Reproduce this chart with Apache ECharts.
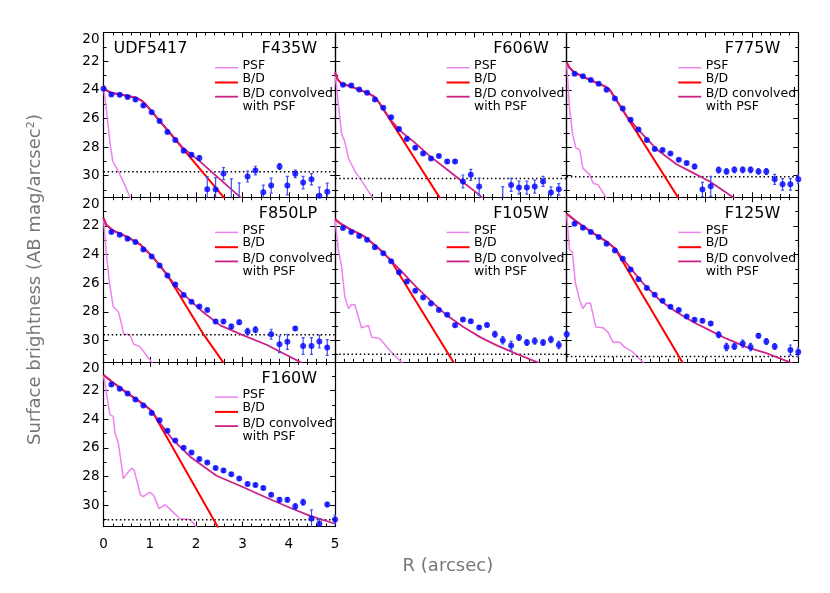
<!DOCTYPE html>
<html>
<head>
<meta charset="utf-8">
<script src="https://cdn.jsdelivr.net/npm/echarts@6/dist/echarts.min.js"></script>
<style>
  html, body { margin: 0; background: #fff; }
  #chart { width: 830px; height: 593px; }
</style>
</head>
<body>
<div id="chart"></div>
<script>
// radius of the measured points (arcsec)
const radius = [0.00, 0.17, 0.35, 0.52, 0.69, 0.86, 1.04, 1.21, 1.38, 1.55, 1.73, 1.90, 2.07, 2.24, 2.42,
                2.59, 2.76, 2.93, 3.11, 3.28, 3.45, 3.62, 3.80, 3.97, 4.14, 4.31, 4.49, 4.66, 4.83, 5.00];
const filters = ['F435W', 'F606W', 'F775W', 'F850LP', 'F105W', 'F125W', 'F160W'];
const skyLevel = [29.73, 30.2, 30.08, 29.61, 30.97, 31.13, 31.03];
const yTicks = [20, 22, 24, 26, 28, 30];
const xTicks = [0, 1, 2, 3, 4, 5];

// F435W
const magF435W = [23.93, 24.33, 24.35, 24.5, 24.68, 25.1, 25.57, 26.18, 26.95, 27.5, 28.26, 28.54, 28.77, 30.95, 30.97,
                  29.85, 31.9, 32.0, 30.06, 29.64, 31.16, 30.69, 29.36, 30.69, 29.87, 30.48, 30.25, 31.4, 31.12, null];
const errF435W = [0.08, 0.08, 0.08, 0.08, 0.08, 0.08, 0.08, 0.08, 0.08, 0.08, 0.1, 0.1, 0.15, 0.88, 0.84,
                  0.42, 1.68, 1.5, 0.38, 0.3, 0.5, 0.52, 0.2, 0.65, 0.26, 0.44, 0.39, 0.6, 0.6, null];
const psfF435W = [[0, 23.8], [0.07, 25.6], [0.14, 27.7], [0.2, 29.0], [0.32, 29.7], [0.46, 30.65], [0.6, 31.7]];
const bdF435W = [[0, 23.7], [0.05, 24.0], [0.15, 24.2], [0.4, 24.35], [0.7, 24.55], [0.82, 24.75], [0.92, 25.05], [2.62, 31.6]];
const convF435W = [[0, 23.75], [0.05, 24.0], [0.15, 24.2], [0.4, 24.35], [0.7, 24.55], [0.82, 24.75], [0.92, 25.05],
                   [1.7, 28.0], [2.08, 29.0], [2.34, 29.75], [2.95, 31.5], [3.0, 31.65]];

// F606W
const magF606W = [null, 23.65, 23.7, 23.98, 24.21, 24.68, 25.26, 25.92, 26.74, 27.44, 28.05, 28.44, 28.8, 28.63, 29.0,
                  29.0, 30.4, 29.94, 30.76, null, null, 31.9, 30.64, 30.83, 30.83, 30.76, 30.4, 31.18, 30.95, null];
const errF606W = [null, 0.08, 0.08, 0.08, 0.08, 0.08, 0.08, 0.08, 0.08, 0.08, 0.08, 0.08, 0.08, 0.08, 0.1,
                  0.1, 0.45, 0.38, 0.6, null, null, 1.14, 0.45, 0.45, 0.45, 0.45, 0.35, 0.4, 0.4, null];
const psfF606W = [[0, 22.8], [0.07, 25.0], [0.14, 27.1], [0.21, 27.6], [0.29, 28.8], [0.43, 29.7], [0.58, 30.4], [0.68, 30.9], [0.85, 31.7]];
const bdF606W = [[0, 22.8], [0.06, 23.3], [0.14, 23.58], [0.32, 23.74], [0.68, 24.2], [0.83, 24.45], [0.92, 24.75], [2.27, 31.6]];
const convF606W = [[0, 22.8], [0.06, 23.3], [0.14, 23.58], [0.32, 23.74], [0.68, 24.2], [0.83, 24.45], [0.92, 24.75],
                   [1.2, 26.1], [1.4, 26.85], [1.69, 27.6], [2.05, 28.65], [2.41, 29.55], [2.77, 30.47], [3.06, 31.2], [3.2, 31.6]];

// F775W
const magF775W = [null, 22.88, 23.06, 23.32, 23.58, 24.0, 24.61, 25.31, 26.1, 26.78, 27.51, 28.14, 28.21, 28.44, 28.89,
                  29.12, 29.36, 30.97, 30.74, 29.6, 29.7, 29.59, 29.59, 29.59, 29.7, 29.7, 30.25, 30.6, 30.6, 30.25];
const errF775W = [null, 0.08, 0.08, 0.08, 0.08, 0.08, 0.08, 0.08, 0.08, 0.08, 0.08, 0.08, 0.08, 0.08, 0.08,
                  0.1, 0.15, 0.5, 0.7, 0.2, 0.18, 0.2, 0.2, 0.2, 0.18, 0.2, 0.35, 0.4, 0.4, 0.3];
const psfF775W = [[0, 22.1], [0.06, 25.26], [0.13, 27.13], [0.2, 28.07], [0.28, 28.19], [0.35, 29.47], [0.5, 29.94],
                  [0.57, 30.53], [0.68, 30.64], [0.88, 31.7]];
const bdF775W = [[0, 22.1], [0.06, 22.46], [0.17, 22.8], [0.56, 23.4], [0.85, 23.8], [0.93, 24.0], [2.42, 31.6]];
const convF775W = [[0, 22.1], [0.06, 22.46], [0.17, 22.8], [0.56, 23.4], [0.85, 23.8], [0.93, 24.0], [1.3, 25.85],
                   [1.58, 26.9], [1.94, 28.15], [2.37, 29.2], [2.73, 29.8], [3.09, 30.4], [3.59, 31.5], [3.65, 31.65]];

// F850LP
const magF850LP = [null, 22.43, 22.62, 22.9, 23.13, 23.65, 24.14, 24.77, 25.47, 26.1, 26.83, 27.3, 27.63, 27.88, 28.68,
                   28.68, 29.03, 28.73, 29.38, 29.26, null, 29.57, 30.27, 30.1, 29.17, 30.39, 30.39, 30.08, 30.5, null];
const errF850LP = [null, 0.08, 0.08, 0.08, 0.08, 0.08, 0.08, 0.08, 0.08, 0.08, 0.08, 0.08, 0.08, 0.08, 0.12,
                   0.12, 0.15, 0.15, 0.22, 0.2, null, 0.35, 0.58, 0.53, 0.12, 0.58, 0.58, 0.45, 0.55, null];
const psfF850LP = [[0, 21.45], [0.06, 23.9], [0.13, 26.0], [0.21, 27.65], [0.32, 28.0], [0.39, 28.85], [0.43, 29.55],
                   [0.57, 29.6], [0.65, 30.25], [0.79, 30.45], [0.93, 31.05], [1.06, 31.6]];
const bdF850LP = [[0, 21.45], [0.06, 21.93], [0.21, 22.33], [0.5, 22.75], [0.79, 23.3], [0.9, 23.65], [1.04, 24.1],
                  [1.21, 24.74], [1.39, 25.5], [2.16, 29.58], [2.6, 31.6]];
const convF850LP = [[0, 21.45], [0.06, 21.93], [0.21, 22.33], [0.5, 22.75], [0.79, 23.3], [0.9, 23.65], [1.04, 24.1],
                    [1.21, 24.74], [1.39, 25.5], [1.6, 26.35], [1.87, 27.2], [2.16, 28.05], [2.52, 28.95], [2.98, 29.6],
                    [3.52, 30.3], [4.3, 31.6]];

// F105W
const magF105W = [null, 22.15, 22.43, 22.71, 22.97, 23.49, 23.91, 24.47, 25.24, 25.89, 26.53, 27.0, 27.42, 27.88, 28.21,
                  28.94, 28.54, 28.66, 29.1, 28.92, 29.57, 29.99, 30.36, 29.8, 30.15, 30.04, 30.15, 29.94, 30.32, 29.57];
const errF105W = [null, 0.08, 0.08, 0.08, 0.08, 0.08, 0.08, 0.08, 0.08, 0.08, 0.08, 0.08, 0.08, 0.08, 0.08,
                  0.1, 0.1, 0.1, 0.12, 0.12, 0.2, 0.25, 0.3, 0.2, 0.2, 0.22, 0.2, 0.22, 0.25, 0.2];
const psfF105W = [[0, 21.53], [0.07, 23.68], [0.14, 24.85], [0.21, 26.96], [0.29, 27.78], [0.36, 27.47], [0.43, 27.54],
                  [0.57, 29.11], [0.72, 28.95], [0.79, 29.77], [0.97, 29.88], [1.18, 30.7], [1.46, 31.6]];
const bdF105W = [[0, 21.53], [0.1, 21.81], [0.32, 22.23], [0.61, 22.7], [0.86, 23.35], [1.04, 23.87], [1.21, 24.45], [2.57, 31.6]];
const convF105W = [[0, 21.53], [0.1, 21.81], [0.32, 22.23], [0.61, 22.7], [0.86, 23.35], [1.04, 23.87], [1.21, 24.45],
                   [1.47, 25.3], [1.76, 26.3], [2.05, 27.19], [2.41, 28.25], [2.77, 29.06], [3.13, 29.77], [3.49, 30.35],
                   [3.92, 30.94], [4.42, 31.6]];

// F125W
const magF125W = [null, 21.85, 22.13, 22.43, 22.78, 23.25, 23.72, 24.3, 25.05, 25.73, 26.34, 26.81, 27.23, 27.65, 27.88,
                  28.33, 28.56, 28.63, 28.82, 29.61, 30.46, 30.43, 30.22, 30.46, 29.68, 30.08, 30.43, null, 30.67, 30.81];
const errF125W = [null, 0.08, 0.08, 0.08, 0.08, 0.08, 0.08, 0.08, 0.08, 0.08, 0.08, 0.08, 0.08, 0.08, 0.08,
                  0.1, 0.1, 0.1, 0.12, 0.2, 0.25, 0.2, 0.25, 0.25, 0.15, 0.2, 0.2, null, 0.35, 0.3];
const psfF125W = [[0, 21.16], [0.06, 23.68], [0.12, 23.8], [0.19, 26.02], [0.28, 27.19], [0.35, 27.78], [0.42, 27.43],
                  [0.51, 27.38], [0.63, 29.06], [0.78, 29.11], [0.89, 29.42], [1.0, 30.12], [1.14, 30.12], [1.25, 30.47],
                  [1.43, 30.82], [1.67, 31.6]];
const bdF125W = [[0, 21.16], [0.21, 21.7], [0.57, 22.51], [0.86, 23.1], [1.04, 23.57], [2.51, 31.6]];
const convF125W = [[0, 21.16], [0.21, 21.7], [0.57, 22.51], [0.86, 23.1], [1.04, 23.57], [1.29, 24.62], [1.65, 26.02],
                   [2.01, 27.19], [2.37, 28.01], [2.73, 28.71], [3.09, 29.3], [3.45, 29.88], [3.88, 30.47], [4.31, 30.89],
                   [4.81, 31.52], [4.9, 31.65]];

// F160W
const magF160W = [null, 21.58, 21.88, 22.21, 22.63, 23.05, 23.57, 24.08, 24.81, 25.49, 26.0, 26.33, 26.78, 27.03, 27.4,
                  27.58, 27.85, 28.15, 28.52, 28.6, 28.8, 29.27, 29.63, 29.63, 30.1, 29.8, 30.93, 31.3, 29.95, 31.0];
const errF160W = [null, 0.08, 0.08, 0.08, 0.08, 0.08, 0.08, 0.08, 0.08, 0.08, 0.08, 0.08, 0.08, 0.08, 0.08,
                  0.1, 0.1, 0.1, 0.1, 0.1, 0.1, 0.1, 0.15, 0.15, 0.2, 0.2, 0.6, 0.35, 0.15, 0.3];
const psfF160W = [[0, 20.92], [0.07, 22.3], [0.14, 23.7], [0.21, 23.8], [0.25, 25.0], [0.32, 25.67], [0.43, 28.15],
                  [0.54, 27.66], [0.61, 27.43], [0.66, 27.55], [0.8, 29.3], [0.86, 29.4], [1.0, 29.1], [1.08, 29.3],
                  [1.2, 30.25], [1.33, 29.97], [1.44, 30.3], [1.65, 30.95], [1.87, 31.0], [2.03, 31.6]];
const bdF160W = [[0, 20.92], [0.17, 21.35], [0.52, 22.2], [0.86, 22.95], [1.05, 23.45], [2.48, 31.6]];
const convF160W = [[0, 20.92], [0.17, 21.35], [0.52, 22.2], [0.86, 22.95], [1.05, 23.45], [1.25, 24.4], [1.5, 25.45],
                   [1.9, 26.7], [2.44, 27.95], [3.02, 28.75], [3.5, 29.45], [4.0, 30.15], [4.46, 30.75], [5.0, 31.3]];

const panels = [
  { mag: magF435W, err: errF435W, psf: psfF435W, bd: bdF435W, conv: convF435W },
  { mag: magF606W, err: errF606W, psf: psfF606W, bd: bdF606W, conv: convF606W },
  { mag: magF775W, err: errF775W, psf: psfF775W, bd: bdF775W, conv: convF775W },
  { mag: magF850LP, err: errF850LP, psf: psfF850LP, bd: bdF850LP, conv: convF850LP },
  { mag: magF105W, err: errF105W, psf: psfF105W, bd: bdF105W, conv: convF105W },
  { mag: magF125W, err: errF125W, psf: psfF125W, bd: bdF125W, conv: convF125W },
  { mag: magF160W, err: errF160W, psf: psfF160W, bd: bdF160W, conv: convF160W }
];

const FONT = 'DejaVu Sans';
const LEFT0 = 103.5, TOP0 = 32.5, PANEL_W = 231.6, PANEL_H = 164.7;
const Y_MIN = yTicks[0], Y_MAX = 31.5;
const C_PSF = '#ee82ee', C_BD = '#ff0000', C_CONV = '#cc2288', C_DOT = '#0000ff', C_ERR = '#4050f0';

let grids = [], xAxes = [], yAxes = [], series = [], graphics = [];

panels.forEach((p, i) => {
    let col = i % 3, row = Math.floor(i / 3);
    let left = LEFT0 + col * PANEL_W, top = TOP0 + row * PANEL_H;
    grids.push({ left: left, top: top, width: PANEL_W, height: PANEL_H });

    // x axes: bottom (labels on last panel) and top
    ['bottom', 'top'].forEach(pos => {
        xAxes.push({
            type: 'value', gridIndex: i, position: pos,
            min: xTicks[0], max: xTicks[xTicks.length - 1], interval: 1,
            axisLine: { show: true, onZero: false, lineStyle: { color: '#000', width: 1.2 } },
            axisTick: { show: true, inside: true, length: 5, lineStyle: { color: '#000', width: 1 } },
            minorTick: { show: true, splitNumber: 5, length: 3, lineStyle: { color: '#000', width: 1 } },
            splitLine: { show: false },
            axisLabel: { show: pos === 'bottom' && i === 6, color: '#000', fontSize: 13.5, fontFamily: FONT, margin: 11 }
        });
    });

    // y axes: left/right, major (every 2) and minor (every 1)
    ['left', 'right'].forEach(pos => {
        yAxes.push({
            type: 'value', gridIndex: i, position: pos, inverse: true,
            min: Y_MIN, max: Y_MAX, interval: 2,
            axisLine: { show: true, onZero: false, lineStyle: { color: '#000', width: 1.2 } },
            axisTick: { show: true, inside: true, length: 5, lineStyle: { color: '#000', width: 1 } },
            splitLine: { show: false },
            axisLabel: {
                show: pos === 'left' && col === 0,
                color: '#000', fontSize: 13.5, fontFamily: FONT, margin: 4,
                formatter: v => (v === 20 ? '{top|20}' : (yTicks.indexOf(v) >= 0 ? String(v) : '')),
                rich: { top: { padding: [14, 0, 0, 0], fontSize: 13.5, fontFamily: FONT, color: '#000' } }
            }
        });
        yAxes.push({
            type: 'value', gridIndex: i, position: pos, inverse: true,
            min: Y_MIN, max: Y_MAX, interval: 1,
            axisLine: { show: false, onZero: false },
            axisTick: { show: true, inside: true, length: 3, lineStyle: { color: '#000', width: 1 } },
            splitLine: { show: false },
            axisLabel: { show: false }
        });
    });

    let xi = i * 2, yi = i * 4;
    let pts = [], errs = [];
    radius.forEach((r, k) => {
        if (p.mag[k] == null) return;
        pts.push([r, p.mag[k]]);
        if (p.err[k] != null) errs.push([r, p.mag[k], p.err[k]]);
    });

    series.push({
        type: 'line', xAxisIndex: xi, yAxisIndex: yi, data: p.psf, showSymbol: false, silent: true,
        lineStyle: { color: C_PSF, width: 1.5 }, z: 2
    });
    series.push({
        type: 'line', xAxisIndex: xi, yAxisIndex: yi, data: [[0, skyLevel[i]], [5, skyLevel[i]]],
        showSymbol: false, silent: true, lineStyle: { color: '#000', width: 1.5, type: [1.5, 2.6] }, z: 2
    });
    series.push({
        type: 'line', xAxisIndex: xi, yAxisIndex: yi, data: p.bd, showSymbol: false, silent: true,
        lineStyle: { color: C_BD, width: 2 }, z: 3
    });
    series.push({
        type: 'line', xAxisIndex: xi, yAxisIndex: yi, data: p.conv, showSymbol: false, silent: true,
        lineStyle: { color: C_CONV, width: 1.8 }, z: 3
    });
    series.push({
        type: 'custom', xAxisIndex: xi, yAxisIndex: yi, data: errs, clip: true, silent: true, z: 4,
        renderItem: (params, api) => {
            let x = api.value(0), m = api.value(1), e = api.value(2);
            let a = api.coord([x, m - e]), b = api.coord([x, m + e]);
            let st = { stroke: C_ERR, lineWidth: 1.2 };
            return {
                type: 'group', children: [
                    { type: 'line', shape: { x1: a[0], y1: a[1], x2: b[0], y2: b[1] }, style: st },
                    { type: 'line', shape: { x1: a[0] - 1.5, y1: a[1], x2: a[0] + 1.5, y2: a[1] }, style: st },
                    { type: 'line', shape: { x1: b[0] - 1.5, y1: b[1], x2: b[0] + 1.5, y2: b[1] }, style: st }
                ]
            };
        }
    });
    series.push({
        type: 'scatter', xAxisIndex: xi, yAxisIndex: yi, data: pts, symbolSize: 6, silent: true,
        itemStyle: { color: C_DOT }, z: 5
    });

    // panel titles
    graphics.push({
        type: 'text', x: left + PANEL_W - 18, y: top + 16.5,
        style: { text: filters[i], font: '16px "' + FONT + '"', fill: '#000', align: 'right', verticalAlign: 'middle' }
    });
    if (i === 0) {
        graphics.push({
            type: 'text', x: left + 10, y: top + 16.5,
            style: { text: 'UDF5417', font: '16px "' + FONT + '"', fill: '#000', align: 'left', verticalAlign: 'middle' }
        });
    }

    // legend
    let lx1 = left + 111.5, lx2 = left + 134.5, tx = left + 139;
    [[35.2, C_PSF, 1.5], [50, C_BD, 2], [64.2, C_CONV, 1.8]].forEach(l => {
        graphics.push({
            type: 'line', shape: { x1: lx1, y1: top + l[0], x2: lx2, y2: top + l[0] },
            style: { stroke: l[1], lineWidth: l[2] }
        });
    });
    [[33.2, 'PSF'], [45.8, 'B/D'], [61.5, 'B/D convolved'], [74.5, 'with PSF']].forEach(t => {
        graphics.push({
            type: 'text', x: tx, y: top + t[0],
            style: { text: t[1], font: '12.5px "' + FONT + '"', fill: '#000', align: 'left', verticalAlign: 'middle' }
        });
    });
});

// axis titles
graphics.push({
    type: 'text', x: 35, y: TOP0 + PANEL_H * 1.5, rotation: Math.PI / 2,
    style: { text: 'Surface brightness (AB mag/arcsec²)', font: '18px "' + FONT + '"', fill: '#777',
             align: 'center', verticalAlign: 'middle' }
});
graphics.push({
    type: 'text', x: LEFT0 + PANEL_W * 1.5 - 3, y: 566,
    style: { text: 'R (arcsec)', font: '18px "' + FONT + '"', fill: '#777', align: 'center', verticalAlign: 'middle' }
});

let mychart = echarts.init(document.getElementById('chart'));
mychart.setOption({
    animation: false,
    backgroundColor: '#fff',
    grid: grids,
    xAxis: xAxes,
    yAxis: yAxes,
    series: series,
    graphic: graphics
});
</script>
</body>
</html>
